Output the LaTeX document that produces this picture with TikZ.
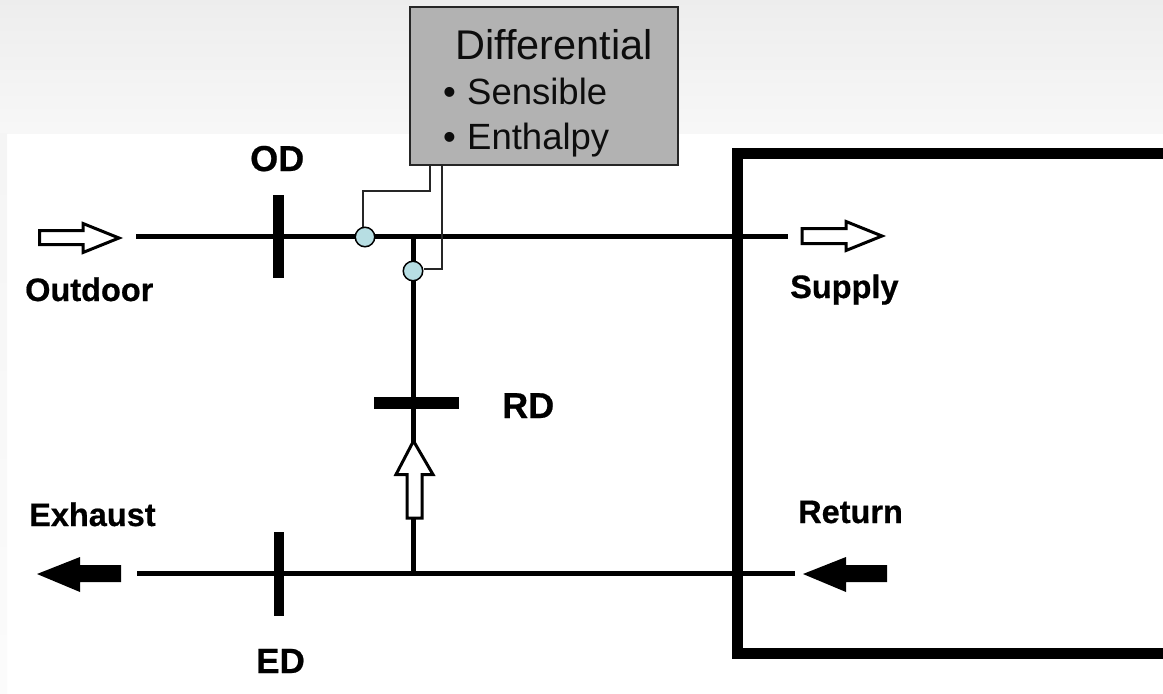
\documentclass[tikz,border=0pt]{standalone}
\usepackage{fontspec}
\setmainfont{Liberation Sans}[BoldFeatures={FakeBold=0.6}]
\tikzset{
  lbl/.style={anchor=base west,inner sep=0pt,font=\fontsize{32.5}{32.5}\selectfont\bfseries},
  biglbl/.style={anchor=base west,inner sep=0pt,font=\fontsize{36}{36}\selectfont\bfseries},
  boxtxt/.style={anchor=base west,inner sep=0pt,text=black!95},
  duct/.style={line width=5pt,black},
  damper/.style={line width=11pt,black},
  wire/.style={line width=2pt,draw=black!85},
  sensor/.style={circle,draw=black,line width=1.5pt,fill=sensorblue,minimum size=19.5pt,inner sep=0pt},
  openarrow/.style={draw=black,line width=3pt,fill=white,line join=miter},
  solidarrow/.style={fill=black,draw=none}
}
\definecolor{sensorblue}{HTML}{B7DEE3}
\begin{document}
\begin{tikzpicture}[x=1pt,y=-1pt]
\useasboundingbox (0,0) rectangle (1163,694);
% slide background
\shade[top color=black!7,bottom color=black!3] (0,0) rectangle (1163,133);
\shade[top color=black!4,bottom color=black!1.5] (0,133) rectangle (7,694);
% coordinates
\coordinate (olL) at (136,236); \coordinate (olR) at (788,236);
\coordinate (rlL) at (137,573); \coordinate (rlR) at (795,573);
\coordinate (jt) at (413,236); \coordinate (jb) at (413,573);
% ducts
\draw[duct] (olL) -- (olR);
\draw[duct] (rlL) -- (rlR);
\draw[duct] (jt) -- (jb);
% building frame
\draw[line width=11pt,black,line join=miter] (1163,153.5) -- (737.5,153.5) -- (737.5,653) -- (1163,653);
% dampers
\coordinate (odT) at (278,195); \coordinate (odB) at (278,278);
\coordinate (edT) at (279,532); \coordinate (edB) at (279,616);
\coordinate (rdL) at (374,403); \coordinate (rdR) at (459,403);
\draw[damper] (odT) -- (odB);
\draw[damper,line width=10pt] (edT) -- (edB);
\draw[damper,line width=12pt] (rdL) -- (rdR);
% control box and sensors
\node[draw=black!85,line width=1.5pt,fill=black!30,minimum width=268pt,minimum height=158pt,inner sep=0pt] (ctl) at (544,86) {};
\node[sensor] (s1) at (365,237) {};
\node[sensor] (s2) at (413,271) {};
\coordinate (c1) at (429.5,165); \coordinate (c2) at (441.5,165);
\draw[wire] (c1) -- (429.5,191) -- (363,191) -- (s1.north -| 363,0);
\draw[wire] (c2) -- (441.5,269) -- (s2.east |- 0,269);
% arrows
\draw[openarrow] (119,238) -- (83,223.5) -- (83,230.5) -- (39.5,230.5) -- (39.5,244.5) -- (83,244.5) -- (83,252.5) -- cycle;
\draw[openarrow] (882,236) -- (846,221.5) -- (846,228.5) -- (802,228.5) -- (802,243.5) -- (846,243.5) -- (846,250.5) -- cycle;
\draw[openarrow] (413.5,441) -- (396,474.5) -- (407,474.5) -- (407,518) -- (422,518) -- (422,474.5) -- (433,474.5) -- cycle;
\fill[solidarrow] (37,574) -- (80,557) -- (80,565) -- (121,565) -- (121,582) -- (80,582) -- (80,592) -- cycle;
\fill[solidarrow] (803,574) -- (846,557) -- (846,565) -- (887,565) -- (887,582) -- (846,582) -- (846,592) -- cycle;
% labels
\node[biglbl] (lod) at (250,171) {OD};
\node[lbl] (lout) at (25,301) {Outdoor};
\node[lbl] (lsup) at (790,298) {Supply};
\node[biglbl] (lrd) at (502,418) {RD};
\node[lbl] (lexh) at (29,526) {Exhaust};
\node[lbl] (lret) at (798,523) {Return};
\node[biglbl,font=\fontsize{35}{35}\selectfont\bfseries] (led) at (256,673) {ED};
\node[boxtxt,font=\fontsize{41.5}{41.5}\selectfont] (t1) at (455,59) {Differential};
\node[boxtxt,font=\fontsize{36.5}{36.5}\selectfont] (t2) at (443,104) {•};
\node[boxtxt,font=\fontsize{36.5}{36.5}\selectfont] (t3) at (467,104) {Sensible};
\node[boxtxt,font=\fontsize{36.5}{36.5}\selectfont] (t4) at (443,149) {•};
\node[boxtxt,font=\fontsize{36.5}{36.5}\selectfont] (t5) at (467,149) {Enthalpy};
\end{tikzpicture}
\end{document}
